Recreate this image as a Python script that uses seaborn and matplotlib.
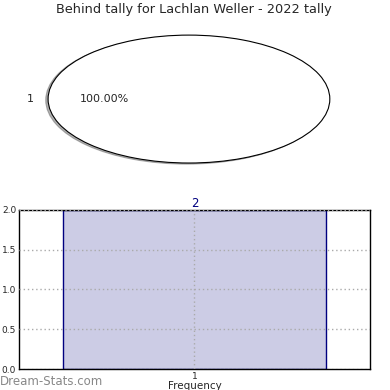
import matplotlib
matplotlib.use("Agg")
import matplotlib.pyplot as plt
import seaborn as sns
import pandas as pd

title = "Behind tally for Lachlan Weller - 2022 tally"
pie_labels = ["1"]
pie_values = [2]
bar_categories = ["1"]
bar_values = [2]

sns.set_style("white")
plt.rcParams['font.family'] = ['DejaVu Sans']

fig = plt.figure(figsize=(3.9, 3.9), dpi=100)

# Pie
ax1 = fig.add_axes([0.033, 0.541, 0.903, 0.41])
ax1.pie(pie_values, labels=pie_labels, autopct='%1.2f%%',
        shadow={'ox': -0.012, 'oy': -0.012, 'shade': 0.6},
        colors=['white'], wedgeprops=dict(edgecolor='black', linewidth=0.8),
        textprops=dict(fontsize=8))
ax1.set_aspect('auto')
ax1.set_xlim(-1.25, 1.25)
ax1.set_ylim(-1.25, 1.25)
ax1.axis('off')
fig.text(0.497, 0.975, title, ha='center', va='center', fontsize=9.3)

# Bar
ax2 = fig.add_axes([0.0487, 0.0538, 0.9, 0.408])
df = pd.DataFrame({"cat": bar_categories, "val": bar_values})
sns.barplot(data=df, x="cat", y="val", ax=ax2, color="#ccccE5", saturation=1,
            edgecolor="navy", linewidth=1, width=0.75)
ax2.set_xlim(-0.5, 0.5)
ax2.set_ylim(0, 2.0)
ax2.set_yticks([0, 0.5, 1.0, 1.5, 2.0])
ax2.set_yticklabels(["0.0", "0.5", "1.0", "1.5", "2.0"])
ax2.tick_params(axis='both', labelsize=6.5, direction='in', length=3, pad=2)
ax2.grid(True, linestyle=(0, (1, 2)), color='#aaaaaa', linewidth=1)
ax2.set_axisbelow(False)
for s in ax2.spines.values():
    s.set_color('black')
    s.set_linewidth(1)
ax2.set_ylabel("")
ax2.set_xlabel("Frequency", fontsize=7.5, labelpad=0)
for i, v in enumerate(bar_values):
    ax2.text(i, v, str(v), ha='center', va='bottom', color='navy', fontsize=8.5)

fig.text(0.0, 0.023, "Dream-Stats.com", ha='left', va='center', fontsize=8.5, color='#888888')

fig.savefig("out.png", dpi=100)
